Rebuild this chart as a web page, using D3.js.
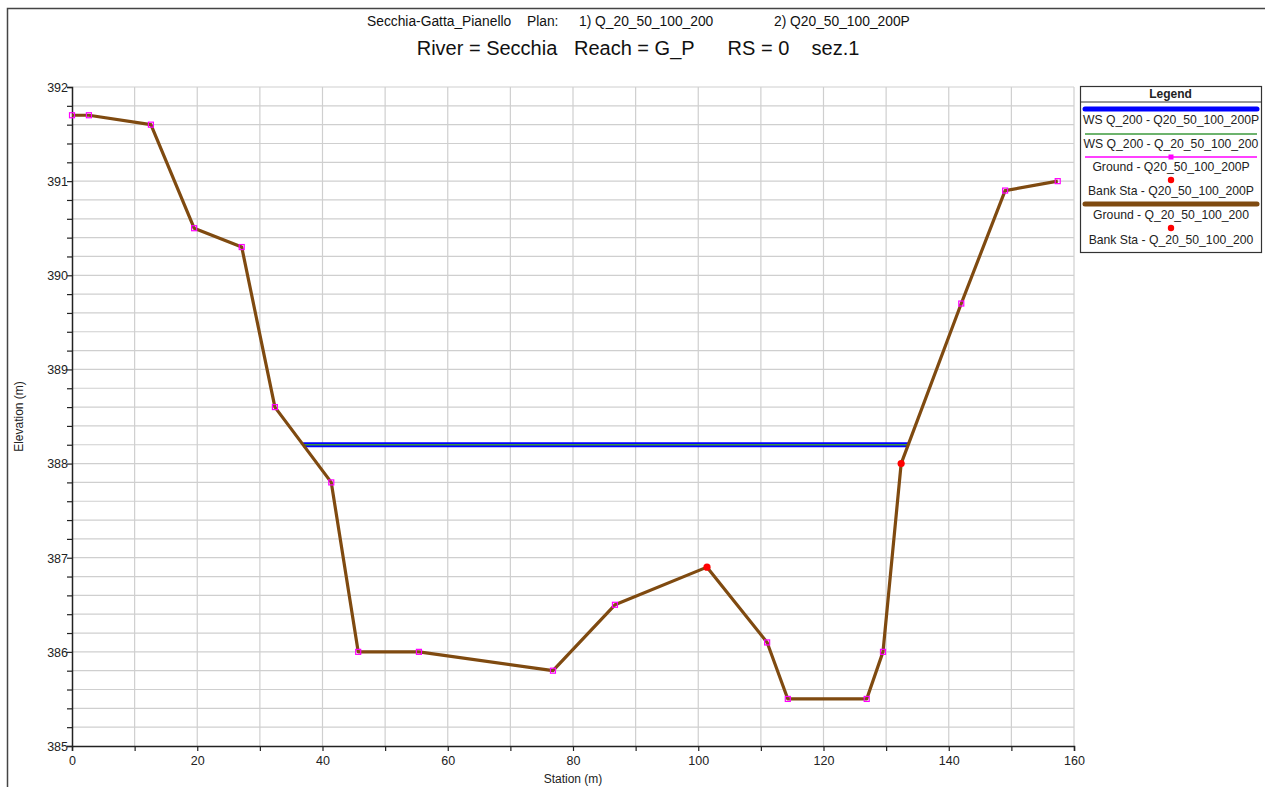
<!DOCTYPE html>
<html>
<head>
<meta charset="utf-8">
<script src="https://cdn.jsdelivr.net/npm/d3@7"></script>
<style>
  html, body { margin: 0; padding: 0; background: #fff; }
  svg { display: block; font-family: "Liberation Sans", Arial, sans-serif; }
</style>
</head>
<body>
<svg id="chart" width="1265" height="787"></svg>
<script>
// Cross section sez.1 — ground profile (station, elevation)
const station   = [0, 2.7, 12.6, 19.5, 27.1, 32.4, 41.4, 45.7, 55.4, 76.8, 86.7, 101.4, 111.0, 114.3, 126.9, 129.5, 132.4, 142.0, 149.0, 157.4];
const elevation = [391.7, 391.7, 391.6, 390.5, 390.3, 388.6, 387.8, 386.0, 386.0, 385.8, 386.5, 386.9, 386.1, 385.5, 385.5, 386.0, 388.0, 389.7, 390.9, 391.0];
// Bank stations
const bankStations = [101.4, 132.4];
// Water surface for Q_200 (both plans)
const wsElevation = [388.2, 388.2];
const xTicks = [0, 20, 40, 60, 80, 100, 120, 140, 160];
const yTicks = [385, 386, 387, 388, 389, 390, 391, 392];
const legendLabels = [
  "WS Q_200 - Q20_50_100_200P",
  "WS Q_200 - Q_20_50_100_200",
  "Ground - Q20_50_100_200P",
  "Bank Sta - Q20_50_100_200P",
  "Ground - Q_20_50_100_200",
  "Bank Sta - Q_20_50_100_200"
];

const svg = d3.select("#chart");
const ground = station.map((s, i) => ({ s, z: elevation[i] }));

const x = d3.scaleLinear().domain([0, 160]).range([72, 1074]);
const y = d3.scaleLinear().domain([385, 392]).range([746, 87]);

// Outer frame
svg.append("rect").attr("x", 7.5).attr("y", 8.5).attr("width", 1270).attr("height", 800)
  .attr("fill", "none").attr("stroke", "#444").attr("stroke-width", 1.5);

// Titles
const t1 = svg.append("g").attr("font-size", 13.8).attr("fill", "#111");
[["Secchia-Gatta_Pianello", 367], ["Plan:", 527], ["1) Q_20_50_100_200", 579], ["2) Q20_50_100_200P", 774]]
  .forEach(([t, px]) => t1.append("text").attr("x", px).attr("y", 26).text(t));
svg.append("text").attr("x", 638).attr("y", 55).attr("text-anchor", "middle")
  .attr("font-size", 20).attr("fill", "#111").attr("xml:space", "preserve")
  .text("River = Secchia   Reach = G_P      RS = 0    sez.1");

// Grid
const g = svg.append("g");
g.selectAll(".vg").data(d3.range(10, 161, 10)).join("line")
  .attr("x1", d => x(d)).attr("x2", d => x(d)).attr("y1", y(392)).attr("y2", y(385))
  .attr("stroke", "#cfcfcf").attr("stroke-width", 1.2);
g.selectAll(".hg").data(d3.range(1, 36).map(i => 385 + i * 0.2)).join("line")
  .attr("x1", x(0)).attr("x2", x(160)).attr("y1", d => y(d)).attr("y2", d => y(d))
  .attr("stroke", "#cfcfcf").attr("stroke-width", 1.2);

// Axes
const xAxis = d3.axisBottom(x).tickValues(d3.range(0, 161, 10)).tickSize(5)
  .tickFormat(d => xTicks.includes(d) ? d : "");
const yAxis = d3.axisLeft(y).tickValues(d3.range(0, 36).map(i => +(385 + i * 0.2).toFixed(1))).tickSize(5)
  .tickFormat(d => yTicks.includes(d) ? d : "");
const gx = svg.append("g").attr("transform", `translate(0,${y(385)})`).call(xAxis);
const gy = svg.append("g").attr("transform", `translate(${x(0)},0)`).call(yAxis);
[gx, gy].forEach(a => {
  a.select(".domain").attr("stroke", "#222").attr("stroke-width", 1.5);
  a.selectAll(".tick line").attr("stroke", "#222").attr("stroke-width", 1.2);
  a.selectAll("text").attr("font-size", 12.5).attr("fill", "#222")
    .attr("font-family", "'Liberation Sans', Arial, sans-serif");
});
gx.selectAll("text").attr("dy", "0.9em");
gy.selectAll("text").attr("x", -4).attr("dy", "0.35em");

svg.append("text").attr("x", 573).attr("y", 783).attr("text-anchor", "middle")
  .attr("font-size", 12).attr("fill", "#222").text("Station (m)");
svg.append("text").attr("transform", `translate(23,${y(388.5)}) rotate(-90)`)
  .attr("text-anchor", "middle").attr("font-size", 12).attr("fill", "#222").text("Elevation (m)");

// Water surface extent: intersections of the WS level with the ground profile
function wsExtent(ws) {
  const hits = [];
  for (let i = 0; i < ground.length - 1; i++) {
    const a = ground[i], b = ground[i + 1];
    if ((a.z - ws) * (b.z - ws) < 0) {
      hits.push(a.s + (ws - a.z) / (b.z - a.z) * (b.s - a.s));
    }
  }
  return [d3.min(hits), d3.max(hits)];
}
const plot = svg.append("g");
const ext0 = wsExtent(wsElevation[0]);
plot.append("line").attr("x1", x(ext0[0])).attr("x2", x(ext0[1]))
  .attr("y1", y(wsElevation[0])).attr("y2", y(wsElevation[0]))
  .attr("stroke", "#0000ff").attr("stroke-width", 5);
const ext1 = wsExtent(wsElevation[1]);
plot.append("line").attr("x1", x(ext1[0])).attr("x2", x(ext1[1]))
  .attr("y1", y(wsElevation[1])).attr("y2", y(wsElevation[1]))
  .attr("stroke", "#3c9a3c").attr("stroke-width", 1.5);

// Ground profiles
const line = d3.line().x(d => x(d.s)).y(d => y(d.z));
plot.append("path").datum(ground).attr("d", line)
  .attr("fill", "none").attr("stroke", "#ff00ff").attr("stroke-width", 1.5);
plot.append("path").datum(ground).attr("d", line)
  .attr("fill", "none").attr("stroke", "#7f4a10").attr("stroke-width", 3.2)
  .attr("stroke-linejoin", "round");
plot.selectAll(".pt").data(ground.filter(d => !bankStations.includes(d.s))).join("rect")
  .attr("x", d => x(d.s) - 2.5).attr("y", d => y(d.z) - 2.5)
  .attr("width", 5).attr("height", 5)
  .attr("fill", "none").attr("stroke", "#ff00ff").attr("stroke-width", 1.2);
plot.selectAll(".bank").data(ground.filter(d => bankStations.includes(d.s))).join("circle")
  .attr("cx", d => x(d.s)).attr("cy", d => y(d.z)).attr("r", 3.6).attr("fill", "#ff0000");

// Legend
const lg = svg.append("g").attr("font-size", 12.2).attr("fill", "#222");
const L = { x0: 1080, x1: 1261, y0: 86, y1: 252 };
lg.append("rect").attr("x", L.x0 + 0.5).attr("y", L.y0 + 0.5)
  .attr("width", L.x1 - L.x0).attr("height", L.y1 - L.y0)
  .attr("fill", "#fff").attr("stroke", "#333").attr("stroke-width", 1.2);
lg.append("line").attr("x1", L.x0).attr("x2", L.x1 + 1).attr("y1", 102).attr("y2", 102)
  .attr("stroke", "#333").attr("stroke-width", 1.2);
lg.append("text").attr("x", (L.x0 + L.x1) / 2).attr("y", 97.5).attr("text-anchor", "middle")
  .attr("font-weight", "bold").attr("font-size", 12).text("Legend");

const lx0 = 1085, lx1 = 1257, lmid = (lx0 + lx1) / 2;
const symY = [109, 134, 157, 180, 204, 228];
const txtY = [124, 148, 171, 195, 219, 244];
// symbols
lg.append("line").attr("x1", lx0).attr("x2", lx1).attr("y1", symY[0]).attr("y2", symY[0])
  .attr("stroke", "#0000ff").attr("stroke-width", 5).attr("stroke-linecap", "round");
lg.append("line").attr("x1", lx0).attr("x2", lx1).attr("y1", symY[1]).attr("y2", symY[1])
  .attr("stroke", "#3c9a3c").attr("stroke-width", 1.5);
lg.append("line").attr("x1", lx0).attr("x2", lx1).attr("y1", symY[2]).attr("y2", symY[2])
  .attr("stroke", "#ff00ff").attr("stroke-width", 1.5);
lg.append("rect").attr("x", lmid - 2.5).attr("y", symY[2] - 2.5).attr("width", 5).attr("height", 5)
  .attr("fill", "#ff00ff");
lg.append("circle").attr("cx", lmid).attr("cy", symY[3]).attr("r", 3.2).attr("fill", "#ff0000");
lg.append("line").attr("x1", lx0).attr("x2", lx1).attr("y1", symY[4]).attr("y2", symY[4])
  .attr("stroke", "#7f4a10").attr("stroke-width", 5).attr("stroke-linecap", "round");
lg.append("circle").attr("cx", lmid).attr("cy", symY[5]).attr("r", 3.2).attr("fill", "#ff0000");
legendLabels.forEach((t, i) => {
  lg.append("text").attr("x", lmid).attr("y", txtY[i]).attr("text-anchor", "middle").text(t);
});
</script>
</body>
</html>
